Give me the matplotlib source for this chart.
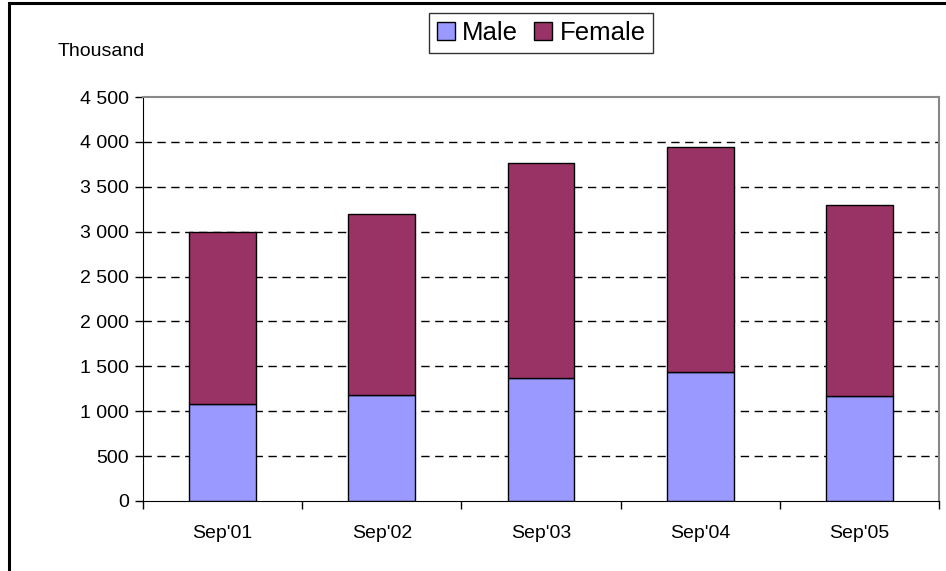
import matplotlib
matplotlib.use("Agg")
import matplotlib.pyplot as plt
from matplotlib.patches import Rectangle
from matplotlib.ticker import FixedLocator, FuncFormatter

plt.rcParams["font.family"] = ["Liberation Sans", "DejaVu Sans"]

categories = ["Sep'01", "Sep'02", "Sep'03", "Sep'04", "Sep'05"]
male = [1080, 1185, 1375, 1435, 1165]
total = [2995, 3195, 3760, 3945, 3300]
female = [t - m for t, m in zip(total, male)]

MALE_COLOR = "#9999FF"
FEMALE_COLOR = "#993366"

fig = plt.figure(figsize=(9.46, 5.71), dpi=100)
ax = fig.add_axes([0.1512, 0.1226, 0.8414, 0.7074])

x = list(range(len(categories)))
ax.bar(x, male, width=0.42, color=MALE_COLOR, edgecolor="black", linewidth=1,
       label="Male", zorder=3)
ax.bar(x, female, bottom=male, width=0.42, color=FEMALE_COLOR,
       edgecolor="black", linewidth=1, label="Female", zorder=3)

ax.set_xlim(-0.5, len(categories) - 0.5)
ax.set_ylim(0, 4500)
ax.set_yticks(range(0, 4501, 500))
ax.yaxis.set_major_formatter(FuncFormatter(lambda v, p: f"{int(v):,}".replace(",", " ")))

ax.set_xticks(x)
ax.set_xticklabels(categories)
ax.xaxis.set_minor_locator(FixedLocator([i - 0.5 for i in range(len(categories) + 1)]))
ax.tick_params(axis="x", which="major", length=0, pad=17, labelsize=14)
ax.tick_params(axis="x", which="minor", length=6, width=1, direction="out")
ax.tick_params(axis="y", length=6, width=1, direction="out", pad=4, labelsize=14)

for v in range(500, 4500, 500):
    ax.axhline(v, color="black", linewidth=1, linestyle=(0, (6, 4)), zorder=1)

ax.spines["top"].set_color("#888888")
ax.spines["right"].set_color("#888888")
ax.spines["top"].set_linewidth(1.5)
ax.spines["right"].set_linewidth(1.5)

fig.text(0.107, 0.909, "Thousand", ha="center", va="center", fontsize=14)

leg = fig.legend(loc="center", bbox_to_anchor=(0.572, 0.942), ncol=2, fontsize=18.5,
                 frameon=True, fancybox=False, edgecolor="black",
                 handlelength=0.7, handleheight=0.7, handletextpad=0.3,
                 columnspacing=0.6, borderpad=0.3, borderaxespad=0)
leg.get_frame().set_linewidth(1)

# outer frame of the chart area
fig.add_artist(Rectangle((0.009, -0.2), 1.2, 1.195, transform=fig.transFigure,
                         fill=False, edgecolor="black", linewidth=2.2))

fig.savefig("out.png", dpi=100)
